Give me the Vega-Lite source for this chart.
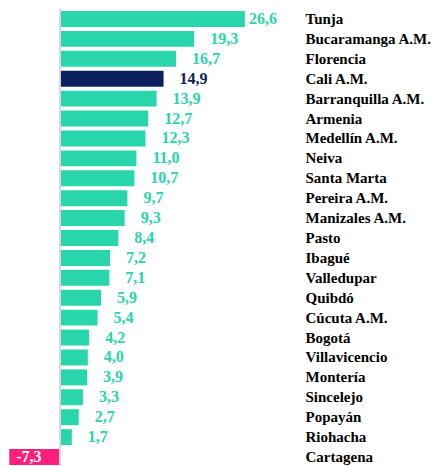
{
  "$schema": "https://vega.github.io/schema/vega-lite/v6.json",
  "width": 300,
  "height": 458,
  "autosize": {"type": "none"},
  "padding": {"top": 9, "left": 0, "right": 142, "bottom": 0},
  "background": "white",
  "config": {
    "view": {"stroke": null},
    "locale": {"number": {"decimal": ",", "thousands": ".", "grouping": [3], "currency": ["", ""], "minus": "-"}}
  },
  "data": {
    "values": [
      {"city": "Tunja", "value": 26.6},
      {"city": "Bucaramanga A.M.", "value": 19.3},
      {"city": "Florencia", "value": 16.7},
      {"city": "Cali A.M.", "value": 14.9},
      {"city": "Barranquilla A.M.", "value": 13.9},
      {"city": "Armenia", "value": 12.7},
      {"city": "Medellín A.M.", "value": 12.3},
      {"city": "Neiva", "value": 11.0},
      {"city": "Santa Marta", "value": 10.7},
      {"city": "Pereira A.M.", "value": 9.7},
      {"city": "Manizales A.M.", "value": 9.3},
      {"city": "Pasto", "value": 8.4},
      {"city": "Ibagué", "value": 7.2},
      {"city": "Valledupar", "value": 7.1},
      {"city": "Quibdó", "value": 5.9},
      {"city": "Cúcuta A.M.", "value": 5.4},
      {"city": "Bogotá", "value": 4.2},
      {"city": "Villavicencio", "value": 4.0},
      {"city": "Montería", "value": 3.9},
      {"city": "Sincelejo", "value": 3.3},
      {"city": "Popayán", "value": 2.7},
      {"city": "Riohacha", "value": 1.7},
      {"city": "Cartagena", "value": -7.3}
    ]
  },
  "encoding": {
    "y": {
      "field": "city",
      "type": "nominal",
      "sort": null,
      "scale": {"paddingInner": 0.2, "paddingOuter": 0.1},
      "axis": {
        "orient": "right",
        "title": null,
        "ticks": false,
        "domain": false,
        "labelPadding": 5,
        "labelFont": "Liberation Serif",
        "labelFontWeight": "bold",
        "labelFontSize": 15,
        "labelColor": "#000000",
        "labelLimit": 300
      }
    },
    "x": {
      "field": "value",
      "type": "quantitative",
      "scale": {"domain": [-8.63, 34.53], "nice": false, "zero": false},
      "axis": null
    }
  },
  "layer": [
    {
      "mark": {"type": "bar"},
      "encoding": {
        "color": {
          "condition": [
            {"test": "datum.city === 'Cali A.M.'", "value": "#0C1F5E"},
            {"test": "datum.value < 0", "value": "#FF1F7A"}
          ],
          "value": "#29D5AA"
        }
      }
    },
    {
      "mark": {"type": "rule", "color": "#D9D9D9", "strokeWidth": 2},
      "data": {"values": [{"z": 0}]},
      "encoding": {
        "x": {"field": "z", "type": "quantitative"},
        "y": null
      }
    },
    {
      "transform": [{"filter": "datum.value >= 0 && datum.value < 20"}],
      "mark": {"type": "text", "align": "left", "dx": 16, "font": "Liberation Serif", "fontWeight": "bold", "fontSize": 16},
      "encoding": {
        "text": {"field": "value", "type": "quantitative", "format": ".1f"},
        "color": {
          "condition": {"test": "datum.city === 'Cali A.M.'", "value": "#0C1F5E"},
          "value": "#29D5AA"
        }
      }
    },
    {
      "transform": [{"filter": "datum.value >= 20"}],
      "mark": {"type": "text", "align": "left", "dx": 4, "font": "Liberation Serif", "fontWeight": "bold", "fontSize": 16, "color": "#29D5AA"},
      "encoding": {
        "text": {"field": "value", "type": "quantitative", "format": ".1f"}
      }
    },
    {
      "transform": [{"filter": "datum.value < 0"}],
      "mark": {"type": "text", "align": "left", "dx": 7, "font": "Liberation Serif", "fontWeight": "bold", "fontSize": 16, "color": "#FFFFFF"},
      "encoding": {
        "text": {"field": "value", "type": "quantitative", "format": ".1f"}
      }
    }
  ]
}
